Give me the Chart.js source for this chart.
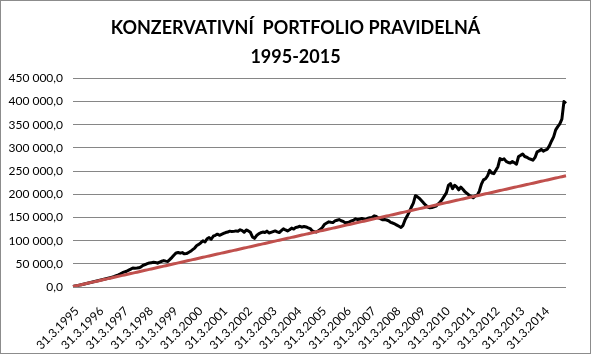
<!DOCTYPE html>
<html>
<head>
<meta charset="UTF-8">
<title>Konzervativní portfolio pravidelná 1995-2015</title>
<style>
    body { margin: 0; background: #fff; }
    #box { width: 591px; height: 354px; box-sizing: border-box; border: 1px solid #8c8c8c; background: #fff; }
    canvas { display: block; }
</style>
<script src="https://cdn.jsdelivr.net/npm/chart.js"></script>
</head>
<body>
<div id="box"><canvas id="graf" width="589" height="352"></canvas></div>
<script>
// mesicni hodnoty od 31.3.1995 (jeden radek = jeden rok)
const portfolio = [
    1000, 2000, 3000, 4000, 5000, 6100, 7100, 8200, 9200, 10300, 11300, 12400,
    13400, 14500, 15500, 16600, 17700, 18900, 20100, 21400, 22800, 24600, 26200, 28300,
    30800, 32500, 34000, 36200, 38500, 41000, 40500, 40800, 41500, 43500, 46800, 48500,
    50500, 51800, 52500, 53200, 52800, 51500, 53800, 55500, 57000, 55800, 55200, 59500,
    64000, 69000, 73500, 74500, 73000, 74200, 71500, 72000, 74500, 77000, 80500, 84000,
    89500, 92000, 95500, 99500, 97000, 104000, 106500, 103000, 109500, 111500, 114000, 111500,
    113500, 115500, 117500, 118500, 120500, 119500, 120000, 121000, 120500, 123500, 121500, 118000,
    123000, 121000, 118000, 108000, 105000, 111000, 114500, 117000, 118500, 117500, 120500, 116500,
    118000, 119500, 121000, 119000, 117500, 121500, 125500, 123000, 121000, 123500, 127000, 125000,
    128500, 129500, 131000, 129000, 130500, 129500, 127500, 126000, 121000, 119500, 118500, 121500,
    124500, 129000, 135500, 138000, 140500, 139500, 139000, 142500, 144000, 145500, 143000, 141500,
    138500, 139000, 140500, 142500, 144000, 147000, 145500, 146000, 148000, 146500, 145000, 148500,
    149500, 150000, 153500, 152000, 149000, 147500, 145000, 145500, 144500, 143000, 139500, 138000,
    136000, 133500, 131000, 128500, 133000, 145000, 153000, 162000, 172000, 181000, 197000, 194500,
    191000, 186000, 181000, 176500, 172500, 171000, 171500, 173000, 174500, 179000, 183500, 189000,
    196000, 203000, 219000, 223000, 212000, 219500, 216000, 209500, 215500, 211000, 205500, 202000,
    198000, 195500, 192500, 196500, 198000, 207000, 222000, 231000, 233500, 240000, 251500, 246000,
    244500, 252000, 259500, 277000, 274500, 276500, 271000, 268500, 267500, 270500, 268000, 265000,
    281500, 284000, 287000, 281500, 280000, 277000, 275500, 273500, 279500, 291500, 293500, 297000,
    293000, 295500, 297500, 305000, 315000, 324000, 339000, 346000, 352000, 362000, 400000, 396000
];

const investice = [
    1000, 2000, 3000, 4000, 5000, 6000, 7000, 8000, 9000, 10000, 11000, 12000,
    13000, 14000, 15000, 16000, 17000, 18000, 19000, 20000, 21000, 22000, 23000, 24000,
    25000, 26000, 27000, 28000, 29000, 30000, 31000, 32000, 33000, 34000, 35000, 36000,
    37000, 38000, 39000, 40000, 41000, 42000, 43000, 44000, 45000, 46000, 47000, 48000,
    49000, 50000, 51000, 52000, 53000, 54000, 55000, 56000, 57000, 58000, 59000, 60000,
    61000, 62000, 63000, 64000, 65000, 66000, 67000, 68000, 69000, 70000, 71000, 72000,
    73000, 74000, 75000, 76000, 77000, 78000, 79000, 80000, 81000, 82000, 83000, 84000,
    85000, 86000, 87000, 88000, 89000, 90000, 91000, 92000, 93000, 94000, 95000, 96000,
    97000, 98000, 99000, 100000, 101000, 102000, 103000, 104000, 105000, 106000, 107000, 108000,
    109000, 110000, 111000, 112000, 113000, 114000, 115000, 116000, 117000, 118000, 119000, 120000,
    121000, 122000, 123000, 124000, 125000, 126000, 127000, 128000, 129000, 130000, 131000, 132000,
    133000, 134000, 135000, 136000, 137000, 138000, 139000, 140000, 141000, 142000, 143000, 144000,
    145000, 146000, 147000, 148000, 149000, 150000, 151000, 152000, 153000, 154000, 155000, 156000,
    157000, 158000, 159000, 160000, 161000, 162000, 163000, 164000, 165000, 166000, 167000, 168000,
    169000, 170000, 171000, 172000, 173000, 174000, 175000, 176000, 177000, 178000, 179000, 180000,
    181000, 182000, 183000, 184000, 185000, 186000, 187000, 188000, 189000, 190000, 191000, 192000,
    193000, 194000, 195000, 196000, 197000, 198000, 199000, 200000, 201000, 202000, 203000, 204000,
    205000, 206000, 207000, 208000, 209000, 210000, 211000, 212000, 213000, 214000, 215000, 216000,
    217000, 218000, 219000, 220000, 221000, 222000, 223000, 224000, 225000, 226000, 227000, 228000,
    229000, 230000, 231000, 232000, 233000, 234000, 235000, 236000, 237000, 238000, 239000, 240000
];

const popiskyOsyX = [
    '31.3.1995', '31.3.1996', '31.3.1997', '31.3.1998', '31.3.1999',
    '31.3.2000', '31.3.2001', '31.3.2002', '31.3.2003', '31.3.2004',
    '31.3.2005', '31.3.2006', '31.3.2007', '31.3.2008', '31.3.2009',
    '31.3.2010', '31.3.2011', '31.3.2012', '31.3.2013', '31.3.2014'
];

// kategorie = konce mesicu od brezna 1995
const kategorie = [];
for (let i = 0; i < portfolio.length; i++) {
    const m = 2 + i;                       // 0 = leden
    const rok = 1995 + Math.floor(m / 12);
    const mesic = m % 12;
    const den = new Date(rok, mesic + 1, 0).getDate();
    kategorie.push(den + '.' + (mesic + 1) + '.' + rok);
}

function cislo(v) {
    const cele = Math.round(v).toString().replace(/\B(?=(\d{3})+(?!\d))/g, ' ');
    return cele + ',0';
}

const pismo = "Lato, 'Open Sans', 'Liberation Sans', sans-serif";

new Chart(document.getElementById('graf'), {
    type: 'line',
    data: {
        labels: kategorie,
        datasets: [{
            label: 'Investováno',
            data: investice,
            borderColor: '#c0504d',
            borderWidth: 3,
            pointRadius: 0,
            tension: 0
        }, {
            label: 'Konzervativní portfolio',
            data: portfolio,
            borderColor: '#000000',
            borderWidth: 3,
            borderJoinStyle: 'round',
            pointRadius: 0,
            tension: 0
        }]
    },
    options: {
        responsive: false,
        animation: false,
        layout: { padding: 0 },
        plugins: {
            legend: { display: false },
            tooltip: { enabled: false },
            title: {
                display: true,
                text: ['KONZERVATIVNÍ  PORTFOLIO PRAVIDELNÁ', '1995-2015'],
                color: '#000',
                font: { family: pismo, size: 18, weight: 'bold', lineHeight: 1.65 },
                padding: { top: 12, bottom: 6 }
            }
        },
        scales: {
            x: {
                grid: { display: false },
                border: { display: false },
                ticks: {
                    autoSkip: false,
                    maxRotation: 45,
                    minRotation: 45,
                    padding: 9,
                    labelOffset: 4,
                    color: '#000',
                    font: { family: pismo, size: 12 },
                    callback: function(v, i) {
                        const t = kategorie[i];
                        return popiskyOsyX.includes(t) ? t : '';
                    }
                },
                afterFit: function(s) { s.height = 66; }
            },
            y: {
                min: 0,
                max: 450000,
                grid: { color: '#868686', lineWidth: 1, drawTicks: false },
                border: { display: false },
                ticks: {
                    stepSize: 50000,
                    padding: 10,
                    color: '#000',
                    font: { family: pismo, size: 12 },
                    callback: function(v) { return cislo(v); }
                },
                afterFit: function(s) { s.width = 72; }
            },
            // prazdny okraj vpravo od grafu
            okraj: {
                type: 'linear',
                position: 'right',
                grid: { display: false },
                border: { display: false },
                ticks: { display: false },
                afterFit: function(s) { s.width = 24; }
            }
        }
    }
});
</script>
</body>
</html>
